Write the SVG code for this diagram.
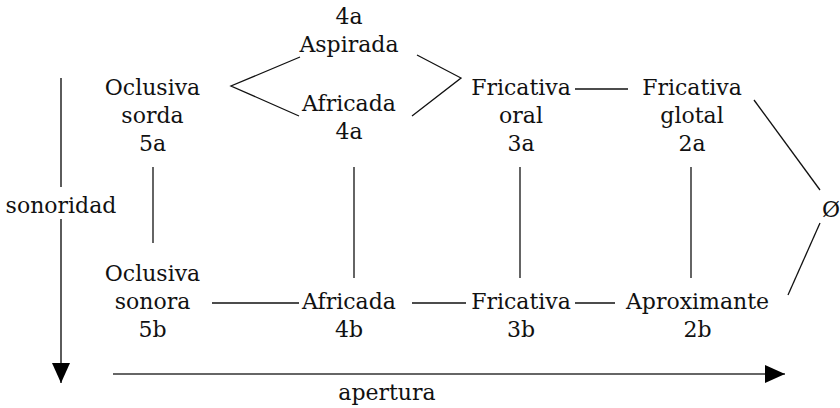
<svg xmlns="http://www.w3.org/2000/svg" width="840" height="408" viewBox="0 0 840 408">
<style>
text{font-family:"DejaVu Serif","Liberation Serif",serif;font-size:22px;fill:#111;text-anchor:middle}
.c{stroke:#111;stroke-width:1.3;fill:none}
.ax{stroke:#333;stroke-width:1.6;fill:none}
</style>
<defs>
<marker id="ah" viewBox="0 0 20 18" refX="20" refY="9" markerWidth="20" markerHeight="18" markerUnits="userSpaceOnUse" orient="auto">
<path d="M0,0 L20,9 L0,18 Z" fill="#000"/>
</marker>
</defs>
<rect width="840" height="408" fill="#fff"/>
<g id="connectors">
<polyline class="c" points="300,57 231,86 299,116"/>
<polyline class="c" points="417,55 461,78 412,116"/>
<line class="c" x1="575" y1="89" x2="628" y2="89"/>
<line class="c" x1="754" y1="100" x2="820" y2="190"/>
<line class="c" x1="820" y1="223" x2="788" y2="295"/>
<line class="c" x1="153" y1="167" x2="153" y2="243"/>
<line class="c" x1="354" y1="167" x2="354" y2="278"/>
<line class="c" x1="520" y1="167" x2="520" y2="278"/>
<line class="c" x1="691" y1="167" x2="691" y2="278"/>
<line class="c" x1="212" y1="303" x2="299" y2="303"/>
<line class="c" x1="412" y1="303" x2="466" y2="303"/>
<line class="c" x1="575" y1="303" x2="615" y2="303"/>
</g>
<g id="axis-sonoridad">
<line class="ax" x1="61" y1="78" x2="61" y2="187"/>
<line class="ax" x1="61" y1="219" x2="61" y2="383" marker-end="url(#ah)"/>
<text x="61" y="213">sonoridad</text>
</g>
<g id="axis-apertura">
<line class="ax" x1="113" y1="374" x2="785" y2="374" marker-end="url(#ah)"/>
<text x="387" y="400">apertura</text>
</g>
<g id="n5a"><text x="152.5" y="95">Oclusiva</text><text x="152.5" y="123">sorda</text><text x="152.5" y="151">5a</text></g>
<g id="n4a-asp"><text x="349" y="24">4a</text><text x="349" y="52">Aspirada</text></g>
<g id="n4a-afr"><text x="349" y="111">Africada</text><text x="349" y="139">4a</text></g>
<g id="n3a"><text x="521" y="95">Fricativa</text><text x="521" y="123">oral</text><text x="521" y="151">3a</text></g>
<g id="n2a"><text x="692" y="95">Fricativa</text><text x="692" y="123">glotal</text><text x="692" y="151">2a</text></g>
<g id="n0"><text x="822" y="217" style="text-anchor:start">Ø</text></g>
<g id="n5b"><text x="152.5" y="281">Oclusiva</text><text x="152.5" y="309">sonora</text><text x="152.5" y="337">5b</text></g>
<g id="n4b"><text x="349" y="309">Africada</text><text x="349" y="337">4b</text></g>
<g id="n3b"><text x="521" y="309">Fricativa</text><text x="521" y="337">3b</text></g>
<g id="n2b"><text x="697.5" y="309">Aproximante</text><text x="697.5" y="337">2b</text></g>
</svg>
